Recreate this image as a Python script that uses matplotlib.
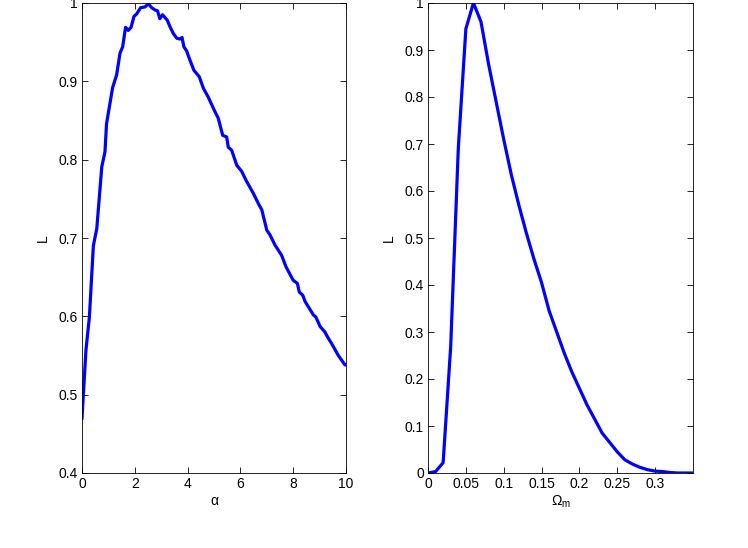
import numpy as np
import matplotlib
matplotlib.use("Agg")
import matplotlib.pyplot as plt

plt.rcParams['font.family'] = ['Liberation Sans', 'DejaVu Sans']
plt.rcParams['mathtext.default'] = 'regular'

# left panel: likelihood vs alpha
alpha = [0.0, 0.05, 0.15, 0.28, 0.43, 0.56, 0.75, 0.87, 0.93, 1.16, 1.31, 1.44, 1.54,
         1.65, 1.75, 1.86, 1.97, 2.07, 2.22, 2.39, 2.51, 2.64, 2.77, 2.86, 2.95, 3.05,
         3.23, 3.33, 3.46, 3.59, 3.71, 3.79, 3.86, 3.96, 4.09, 4.24, 4.44, 4.6, 4.78,
         5.04, 5.16, 5.33, 5.48, 5.54, 5.67, 5.86, 6.05, 6.24, 6.49, 6.68, 6.81, 7.0,
         7.12, 7.31, 7.56, 7.73, 8.0, 8.16, 8.23, 8.36, 8.45, 8.76, 8.86, 9.02, 9.2,
         9.33, 9.46, 9.71, 9.96, 10.0]
L_alpha = [0.470, 0.499, 0.557, 0.599, 0.690, 0.712, 0.791, 0.810, 0.846, 0.892, 0.908,
           0.936, 0.944, 0.969, 0.965, 0.969, 0.983, 0.986, 0.994, 0.995, 0.999, 0.994,
           0.991, 0.990, 0.980, 0.985, 0.978, 0.970, 0.961, 0.955, 0.954, 0.956, 0.944,
           0.939, 0.927, 0.914, 0.906, 0.891, 0.880, 0.861, 0.853, 0.831, 0.829, 0.816,
           0.812, 0.793, 0.785, 0.772, 0.757, 0.744, 0.736, 0.710, 0.704, 0.691, 0.678,
           0.663, 0.646, 0.642, 0.631, 0.627, 0.619, 0.602, 0.599, 0.587, 0.580, 0.572,
           0.565, 0.550, 0.538, 0.538]

# right panel: likelihood vs Omega_m
omega = [0.0, 0.01, 0.02, 0.03, 0.04, 0.05, 0.06, 0.07, 0.08, 0.09, 0.10, 0.11, 0.12,
         0.13, 0.14, 0.15, 0.16, 0.17, 0.18, 0.19, 0.20, 0.21, 0.22, 0.23, 0.24, 0.25,
         0.26, 0.27, 0.28, 0.29, 0.30, 0.31, 0.32, 0.33, 0.34, 0.35]
L_omega = [0.0, 0.003, 0.022, 0.27, 0.69, 0.945, 1.0, 0.96, 0.87, 0.79, 0.71, 0.635,
           0.57, 0.51, 0.455, 0.405, 0.345, 0.30, 0.255, 0.215, 0.18, 0.145, 0.115,
           0.085, 0.065, 0.045, 0.028, 0.019, 0.012, 0.007, 0.004, 0.003, 0.001, 0.0,
           0.0, 0.0]

fig = plt.figure(figsize=(7.48, 5.48), dpi=100)
ax1 = fig.add_axes([82 / 748, 1 - 473 / 548, 264 / 748, 470 / 548])
ax2 = fig.add_axes([428 / 748, 1 - 473 / 548, 265 / 748, 470 / 548])

ax1.plot(alpha, L_alpha, color='#0000ff', lw=2.3)
ax1.set_xlim(0, 10)
ax1.set_ylim(0.4, 1)
ax1.set_xticks([0, 2, 4, 6, 8, 10])
ax1.set_yticks([0.4, 0.5, 0.6, 0.7, 0.8, 0.9, 1.0])
ax1.set_yticklabels(['0.4', '0.5', '0.6', '0.7', '0.8', '0.9', '1'])
ax1.set_xlabel('α', fontsize=10)
ax1.set_ylabel('L', fontsize=10)

ax2.plot(omega, L_omega, color='#0000ff', lw=2.3)
ax2.set_xlim(0, 0.35)
ax2.set_ylim(0, 1)
ax2.set_xticks([0, 0.05, 0.1, 0.15, 0.2, 0.25, 0.3])
ax2.set_xticklabels(['0', '0.05', '0.1', '0.15', '0.2', '0.25', '0.3'])
ax2.set_yticks(np.arange(0, 11) / 10)
ax2.set_yticklabels(['0'] + ['%g' % (i / 10) for i in range(1, 10)] + ['1'])
ax2.set_xlabel(r'$\Omega_m$', fontsize=10)
ax2.set_ylabel('L', fontsize=10)

for ax in (ax1, ax2):
    ax.tick_params(direction='in', top=True, right=True, length=4, width=0.6,
                   labelsize=10, pad=3)
    for s in ax.spines.values():
        s.set_linewidth(0.6)
    ax.xaxis.labelpad = 2
    ax.yaxis.labelpad = 6

fig.savefig('out.png', dpi=100)
